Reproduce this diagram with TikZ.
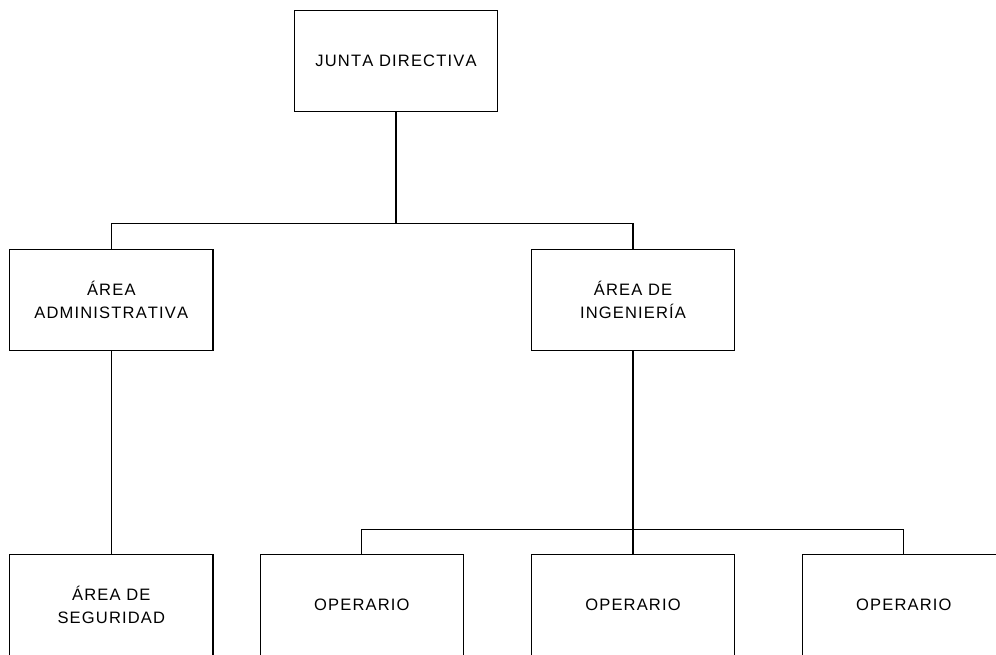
\documentclass[tikz,border=0pt]{standalone}
\usepackage{fontspec}
\setmainfont{Liberation Sans}[LetterSpace=7,Kerning=Off]
\begin{document}
\begin{tikzpicture}[x=0.75pt,y=-0.75pt,
  box/.style={draw=black,line width=0.9pt,minimum width=152.5pt,minimum height=75.5pt,
    inner sep=0pt,align=center,font=\fontsize{12.4}{17.25}\selectfont},
  link/.style={draw=black,line width=0.9pt}]
\clip (0,0) rectangle (996,654);
\fill[white] (0,0) rectangle (996,654);
\node[box] (jd)  at (396,61)  {JUNTA DIRECTIVA};
\node[box] (adm) at (111.3,300.2) {ÁREA\\ADMINISTRATIVA};
\node[box] (ing) at (633,300.2) {ÁREA DE\\INGENIERÍA};
\node[box] (seg) at (111.3,605) {ÁREA DE\\SEGURIDAD};
\node[box] (op1) at (361.8,605) {OPERARIO};
\node[box] (op2) at (633,605) {OPERARIO};
\node[box] (op3) at (903.8,605) {OPERARIO};
\coordinate (b1) at (396,223.3);
\coordinate (b2) at (633,529.5);
\draw[link] (jd.south) -- (b1);
\draw[link] (adm.north) |- (b1) -| (ing.north);
\draw[link] (adm.south) -- (seg.north);
\draw[link] (ing.south) -- (b2);
\draw[link] (op1.north) |- (b2) -| (op3.north);
\draw[link] (b2) -- (op2.north);
\end{tikzpicture}
\end{document}
